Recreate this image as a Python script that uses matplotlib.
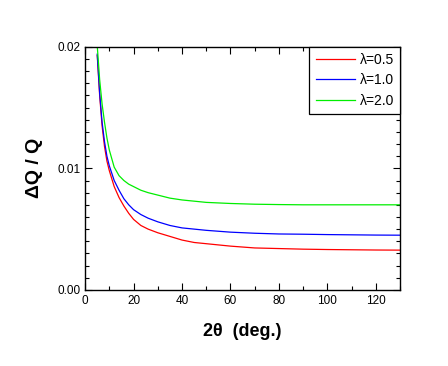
import matplotlib
matplotlib.use("Agg")
import matplotlib.pyplot as plt
from matplotlib.ticker import MultipleLocator

plt.rcParams['font.family'] = ['Liberation Sans', 'DejaVu Sans']

# 2theta (deg) and dQ/Q
two_theta = [5, 6, 7, 8, 9, 10, 12, 14, 16, 18, 20, 23, 26, 30, 35, 40, 45, 50,
             60, 70, 80, 90, 100, 110, 120, 130]
dq_05 = [0.0193, 0.0160, 0.0135, 0.0118, 0.0106, 0.0098, 0.0085, 0.0076, 0.0069,
         0.0063, 0.0058, 0.0053, 0.0050, 0.0047, 0.0044, 0.0041, 0.0039, 0.0038,
         0.0036, 0.00345, 0.0034, 0.00335, 0.00332, 0.0033, 0.00328, 0.00327]
dq_10 = [0.0194, 0.0162, 0.0138, 0.0122, 0.0110, 0.0102, 0.0090, 0.0082, 0.0075,
         0.0070, 0.0066, 0.0062, 0.0059, 0.0056, 0.0053, 0.0051, 0.0050, 0.0049,
         0.00475, 0.00466, 0.0046, 0.00458, 0.00455, 0.00453, 0.00451, 0.0045]
dq_20 = [0.0201, 0.0173, 0.0153, 0.0138, 0.0125, 0.0115, 0.0101, 0.0094, 0.0090,
         0.0087, 0.0085, 0.0082, 0.0080, 0.0078, 0.00755, 0.0074, 0.0073, 0.0072,
         0.00711, 0.00705, 0.00702, 0.0070, 0.0070, 0.0070, 0.0070, 0.0070]
labels = ['λ=0.5', 'λ=1.0', 'λ=2.0']
colors = ['#ff0000', '#0000ff', '#00ee00']

fig = plt.figure(figsize=(4.48, 3.66), dpi=100)
ax = fig.add_axes([0.19, 0.208, 0.703, 0.664])

for y, lab, c in zip([dq_05, dq_10, dq_20], labels, colors):
    ax.plot(two_theta, y, color=c, lw=0.9, label=lab)

ax.set_xlim(0, 130)
ax.set_ylim(0, 0.02)
ax.xaxis.set_major_locator(MultipleLocator(20))
ax.xaxis.set_minor_locator(MultipleLocator(10))
ax.set_yticks([0, 0.01, 0.02])
ax.set_yticklabels(['0.00', '0.01', '0.02'])
ax.yaxis.set_minor_locator(MultipleLocator(0.001))
ax.tick_params(which='both', direction='in', top=True, right=True, labelsize=8.5, width=0.8)
ax.tick_params(which='major', length=5)
ax.tick_params(which='minor', length=3)
for s in ax.spines.values():
    s.set_linewidth(1.0)

ax.set_xlabel('2θ  (deg.)', fontsize=13, fontweight='bold', labelpad=12)
ax.set_ylabel('ΔQ / Q', fontsize=14, fontweight='bold', labelpad=10)

leg = ax.legend(loc='upper right', borderaxespad=0, fontsize=10, fancybox=False,
                handlelength=2.8, handletextpad=0.35, framealpha=1, edgecolor='black',
                borderpad=0.45, labelspacing=0.45)
leg.get_frame().set_linewidth(0.9)

fig.savefig('out.png', dpi=100)
